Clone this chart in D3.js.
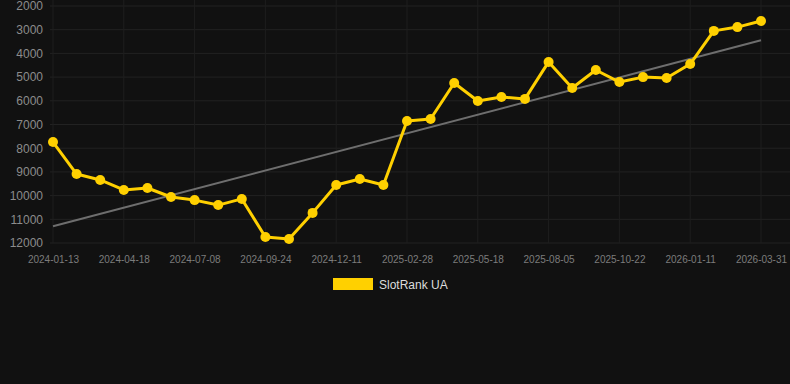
<!DOCTYPE html>
<html>
<head>
<meta charset="utf-8">
<script src="https://cdn.jsdelivr.net/npm/d3@7"></script>
<style>
  html, body { margin: 0; padding: 0; background: #111111; }
  svg { display: block; font-family: "Liberation Sans", Arial, sans-serif; }
</style>
</head>
<body>
<div id="chart"></div>
<script>
  // data
  let dates = ["2024-01-13","2024-02-14","2024-03-17","2024-04-18","2024-05-15","2024-06-11",
               "2024-07-08","2024-08-03","2024-08-29","2024-09-24","2024-10-20","2024-11-15",
               "2024-12-11","2025-01-06","2025-02-02","2025-02-28","2025-03-26","2025-04-22",
               "2025-05-18","2025-06-13","2025-07-09","2025-08-05","2025-08-31","2025-09-26",
               "2025-10-22","2025-11-18","2025-12-15","2026-01-11","2026-02-06","2026-03-05",
               "2026-03-31"];
  let ranks = [7740, 9090, 9340, 9760, 9680, 10060, 10190, 10400, 10140, 11750, 11830, 10730,
               9550, 9300, 9550, 6850, 6770, 5250, 6010, 5840, 5920, 4360, 5460, 4700,
               5210, 5000, 5040, 4450, 3050, 2890, 2630];
  let yTicks = [2000, 3000, 4000, 5000, 6000, 7000, 8000, 9000, 10000, 11000, 12000];
  let seriesName = "SlotRank UA";

  //setup SVG container
  let svgWidth = 790;
  let svgHeight = 384;
  let plot = { left: 53, right: 761, top: 6, bottom: 243 };

  let svg = d3.select("#chart")
              .append("svg")
              .attr("width", svgWidth)
              .attr("height", svgHeight);

  let xScale = d3.scalePoint()
                 .domain(dates)
                 .range([plot.left, plot.right]);

  let yScale = d3.scaleLinear()
                 .domain([2000, 12000])
                 .range([plot.top, plot.bottom]);

  let labelDates = dates.filter((d, i) => i % 3 === 0);

  // grid lines
  svg.append("g").selectAll("line")
     .data(yTicks)
     .enter().append("line")
       .attr("x1", 50).attr("x2", svgWidth)
       .attr("y1", d => yScale(d)).attr("y2", d => yScale(d))
       .attr("stroke", "#222222").attr("stroke-width", 1);

  svg.append("g").selectAll("line")
     .data(labelDates)
     .enter().append("line")
       .attr("x1", d => xScale(d)).attr("x2", d => xScale(d))
       .attr("y1", 0).attr("y2", plot.bottom)
       .attr("stroke", "#1e1e1e").attr("stroke-width", 1);

  // axes
  let leftAxis = d3.axisLeft(yScale).tickValues(yTicks).tickFormat(d3.format("d"))
                   .tickSize(0).tickPadding(10);
  let yAxisG = svg.append("g")
                  .attr("transform", `translate(${plot.left},0)`)
                  .call(leftAxis);
  yAxisG.select(".domain").remove();
  yAxisG.selectAll("text")
        .attr("fill", "#8c8c8c")
        .attr("font-size", "12px")
        .attr("font-family", "Liberation Sans, Arial, sans-serif");

  let bottomAxis = d3.axisBottom(xScale).tickValues(labelDates).tickSize(0).tickPadding(13);
  let xAxisG = svg.append("g")
                  .attr("transform", `translate(0,${plot.bottom})`)
                  .call(bottomAxis);
  xAxisG.select(".domain").remove();
  xAxisG.selectAll("text")
        .attr("fill", "#7c7c7c")
        .attr("font-size", "10px")
        .attr("font-family", "Liberation Sans, Arial, sans-serif");

  // trend line (least squares over the points)
  let n = ranks.length;
  let meanI = d3.mean(ranks, (d, i) => i);
  let meanV = d3.mean(ranks);
  let slope = d3.sum(ranks, (d, i) => (i - meanI) * (d - meanV)) /
              d3.sum(ranks, (d, i) => (i - meanI) * (i - meanI));
  let trendAt = i => meanV + slope * (i - meanI);

  svg.append("line")
     .attr("x1", xScale(dates[0])).attr("y1", yScale(trendAt(0)))
     .attr("x2", xScale(dates[n - 1])).attr("y2", yScale(trendAt(n - 1)))
     .attr("stroke", "#6e6e6e").attr("stroke-width", 2);

  // series line + points
  let line = d3.line()
               .x((d, i) => xScale(dates[i]))
               .y(d => yScale(d));

  svg.append("path")
     .datum(ranks)
     .attr("d", line)
     .attr("fill", "none")
     .attr("stroke", "#ffd000")
     .attr("stroke-width", 3)
     .attr("stroke-linejoin", "round");

  svg.append("g").selectAll("circle")
     .data(ranks)
     .enter().append("circle")
       .attr("cx", (d, i) => xScale(dates[i]))
       .attr("cy", d => yScale(d))
       .attr("r", 5)
       .attr("fill", "#ffd000");

  // legend
  let legend = svg.append("g").attr("transform", "translate(333,278)");
  legend.append("rect")
        .attr("width", 40).attr("height", 12)
        .attr("fill", "#ffd000");
  legend.append("text")
        .attr("x", 46).attr("y", 10.5)
        .attr("fill", "#dddddd")
        .attr("font-size", "12px")
        .text(seriesName);
</script>
</body>
</html>
